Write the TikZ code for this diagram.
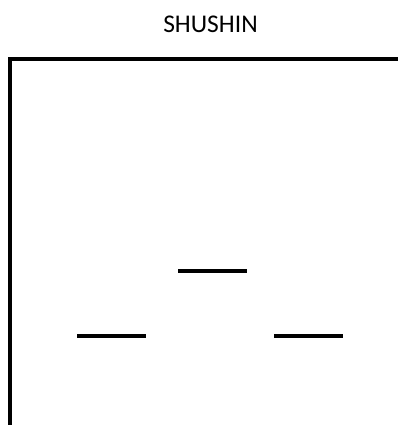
\documentclass[tikz,border=0pt]{standalone}
\usepackage{fontspec}
\setmainfont{Carlito}
\usetikzlibrary{positioning}
\tikzset{
  frame/.style={line width=3.2pt},
  bar/.style={line width=3.2pt},
  heading/.style={font=\fontsize{25.5}{30}\selectfont, inner sep=0pt, anchor=base}
}

\begin{document}
\begin{tikzpicture}[x=1pt,y=-1pt]
  \useasboundingbox (0,0) rectangle (398,425);
  \clip (0,0) rectangle (398,425);
  \node[heading] (title) at (210.5,32.5) {SHUSHIN};
  % open frame
  \draw[frame] (10,430) -- (10,59) -- (405,59);
  % the three bars
  \draw[bar] (178,271) -- (247,271);
  \draw[bar] (77,336) -- (146,336);
  \draw[bar] (274,336) -- (343,336);
\end{tikzpicture}
\end{document}
